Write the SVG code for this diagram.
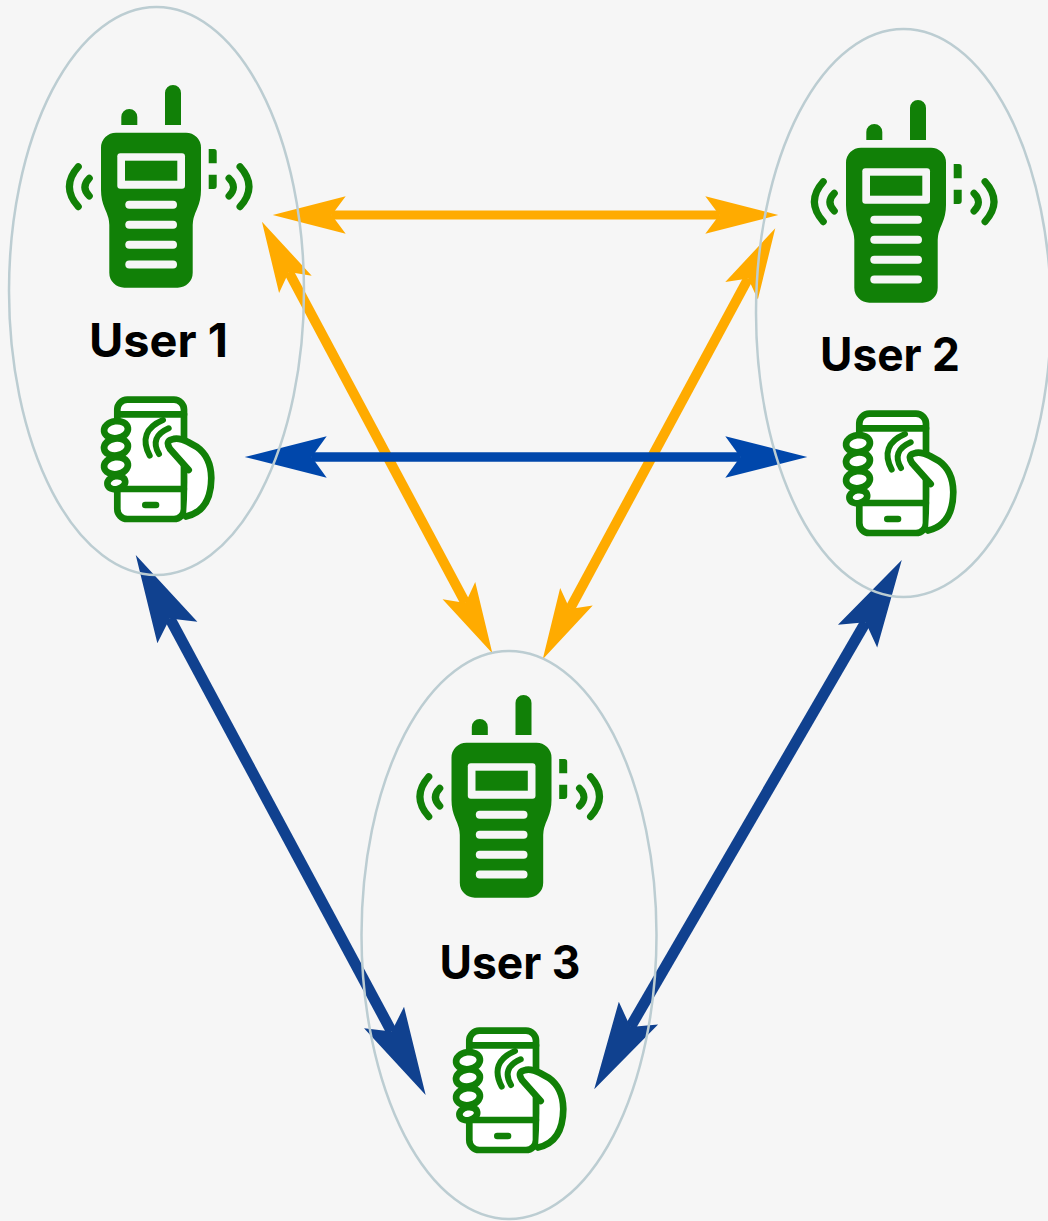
<svg xmlns="http://www.w3.org/2000/svg" xmlns:xlink="http://www.w3.org/1999/xlink" width="1048" height="1221" viewBox="0 0 1048 1221">
<style>
.oval{fill:none;stroke:#bccdd2;stroke-width:2.500}
.lbl{font-family:"Inter","Liberation Sans",sans-serif;font-weight:700;font-size:46.500px;fill:#000;text-anchor:middle}
.g{fill:#118007}
.w{fill:none;stroke:#118007;stroke-width:7;stroke-linecap:round}
.bar{fill:#f6f6f6}
.p{fill:#fff;stroke:#118007;stroke-width:6.700;stroke-linejoin:round;stroke-linecap:round}
.pn{fill:none;stroke:#118007;stroke-width:6.700;stroke-linecap:round}
.o{stroke:#ffab00;stroke-width:9;fill:none}
.o2{stroke:#ffab00;stroke-width:10;fill:none}
.b{stroke:#0047ab;stroke-width:9.500;fill:none}
.d{stroke:#10418f;stroke-width:11;fill:none}
</style>
<defs>
<marker id="mo" markerUnits="userSpaceOnUse" orient="auto-start-reverse" markerWidth="80" markerHeight="44" refX="14" refY="22" viewBox="0 0 80 44"><path d="M73 22L0 3.300L14 22L0 40.700Z" fill="#ffab00"/></marker>
<marker id="mo2" markerUnits="userSpaceOnUse" orient="auto-start-reverse" markerWidth="80" markerHeight="44" refX="14" refY="22" viewBox="0 0 80 44"><path d="M71 22L0 3.500L14 22L0 40.500Z" fill="#ffab00"/></marker>
<marker id="mb" markerUnits="userSpaceOnUse" orient="auto-start-reverse" markerWidth="90" markerHeight="48" refX="15" refY="24" viewBox="0 0 90 48"><path d="M82 24L0 3.200L15 24L0 44.800Z" fill="#0047ab"/></marker>
<marker id="md" markerUnits="userSpaceOnUse" orient="auto-start-reverse" markerWidth="90" markerHeight="48" refX="16" refY="24" viewBox="0 0 90 48"><path d="M88 24L0 1.300L16 24L0 46.700Z" fill="#10418f"/></marker>
<g id="radio">
<path class="g" d="M165 125V93a8 8 0 0 1 16 0V125ZM121.300 125V117a8 8 0 0 1 16 0V125Z"/>
<path class="g" d="M116 132.700H186a15 15 0 0 1 15 15V190Q201 200 197 209Q192.700 218 192.700 225V272.700a15 15 0 0 1-15 15H124.300a15 15 0 0 1-15-15V225Q109.300 218 105 209Q101 200 101 190V147.700a15 15 0 0 1 15-15Z"/>
<rect class="bar" x="117.300" y="153.300" width="67.700" height="35.400" rx="3"/>
<rect class="g" x="125" y="160.700" width="52.300" height="20"/>
<g class="bar"><rect x="125.300" y="200.700" width="51.700" height="8" rx="4"/><rect x="125.300" y="220.700" width="51.700" height="8" rx="4"/><rect x="125.300" y="240.700" width="51.700" height="8" rx="4"/><rect x="125.300" y="260.400" width="51.700" height="8" rx="4"/></g>
<path class="g" d="M208.700 149H214a2.700 2.700 0 0 1 2.700 2.700V163.300H208.700ZM208.700 174.700H216.700V186a3 3 0 0 1-3 3H208.700Z"/>
<path class="w" d="M78.300 166.700Q60.500 186.700 78.300 206.700M89.300 178.300Q80.500 187.200 89.300 196M240 166.700Q258 186.700 240 206.700M229 178.300Q238 187.200 229 196"/>
</g>
<g id="phone">
<rect class="p" x="117.300" y="399.600" width="66.700" height="119.400" rx="10"/>
<path class="pn" d="M118 414.300H184M118 489H184"/>
<rect class="g" x="142" y="501.700" width="17.300" height="6.500" rx="3.200"/>
<path class="p" d="M188.700 470L170 449Q165 441 172 439.500Q178 437 188 442L197 447Q211 457 211.300 478Q211 511 186 516.500"/>
<ellipse class="p" cx="116" cy="429.700" rx="12" ry="8.500" transform="rotate(-8 116 429.700)"/>
<ellipse class="p" cx="116" cy="447" rx="12" ry="8.500" transform="rotate(-8 116 447)"/>
<ellipse class="p" cx="116" cy="465.700" rx="12" ry="8.500" transform="rotate(-8 116 465.700)"/>
<ellipse class="p" cx="116.300" cy="482.700" rx="9" ry="6.500" transform="rotate(-12 116.300 482.700)"/>
<path class="pn" d="M163 420Q137 431 149.700 455.700M168.700 428.300Q149 437 159 454" style="stroke-width:6"/>
</g>
</defs>
<rect width="1048" height="1221" fill="#f6f6f6"/>
<g id="connectors">
<path class="o" d="M331.700 215H719.300" marker-start="url(#mo)" marker-end="url(#mo)"/>
<path class="o2" d="M288.800 272L465.500 603" marker-start="url(#mo2)" marker-end="url(#mo2)"/>
<path class="o2" d="M748.200 278.500L569.800 609.100" marker-start="url(#mo2)" marker-end="url(#mo2)"/>
<path class="b" d="M311.700 457H740.300" marker-start="url(#mb)" marker-end="url(#mb)"/>
<path class="d" d="M169.800 618.400L391.600 1031.600" marker-start="url(#md)" marker-end="url(#md)"/>
<path class="d" d="M865.600 622.300L630.400 1027" marker-start="url(#md)" marker-end="url(#md)"/>
</g>
<g id="user1"><ellipse class="oval" cx="156.500" cy="291" rx="147.500" ry="284"/><use xlink:href="#radio" href="#radio"/><text class="lbl" x="158.500" y="357" textLength="139" lengthAdjust="spacingAndGlyphs">User 1</text><use xlink:href="#phone" href="#phone"/></g>
<g id="user2"><ellipse class="oval" cx="903.500" cy="313" rx="147.500" ry="284"/><use xlink:href="#radio" href="#radio" x="745" y="15"/><text class="lbl" x="890" y="371" textLength="140" lengthAdjust="spacingAndGlyphs">User 2</text><use xlink:href="#phone" href="#phone" x="742" y="14"/></g>
<g id="user3"><ellipse class="oval" cx="509" cy="935" rx="147.500" ry="284"/><use xlink:href="#radio" href="#radio" x="350.500" y="610"/><text class="lbl" x="510" y="979" textLength="141" lengthAdjust="spacingAndGlyphs">User 3</text><use xlink:href="#phone" href="#phone" x="352" y="631"/></g>
</svg>
